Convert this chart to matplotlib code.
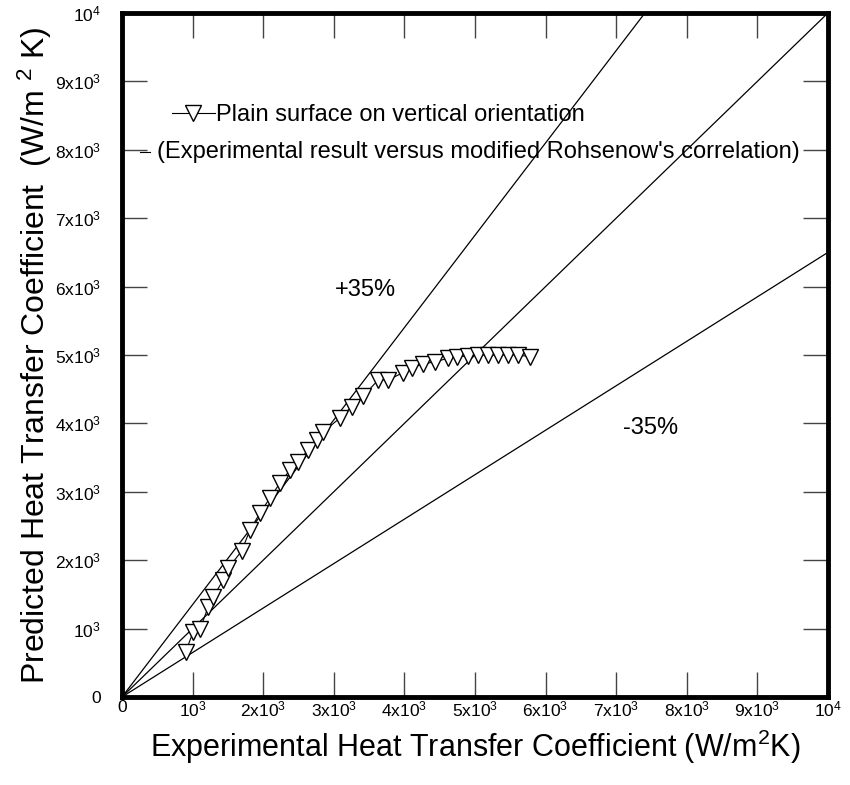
import matplotlib
matplotlib.use("Agg")
import matplotlib.pyplot as plt
import numpy as np

plt.rcParams['font.family'] = ['Liberation Sans', 'DejaVu Sans']
plt.rcParams['mathtext.fontset'] = 'custom'
plt.rcParams['mathtext.rm'] = 'Liberation Sans'
plt.rcParams['mathtext.it'] = 'Liberation Sans'

# Data (W/m^2K)
exp_h = [902, 1010, 1105, 1222, 1293, 1435, 1506, 1695, 1813, 1955, 2096, 2238,
         2380, 2493, 2635, 2762, 2847, 3088, 3254, 3418, 3630, 3772, 3984, 4103,
         4268, 4433, 4622, 4741, 4905, 5047, 5188, 5330, 5472, 5613, 5779]
pred_h = [662, 955, 990, 1320, 1466, 1711, 1882, 2135, 2442, 2690, 2909, 3129,
          3319, 3436, 3611, 3757, 3874, 4079, 4244, 4401, 4635, 4635, 4744, 4817,
          4868, 4902, 4952, 4975, 4985, 5000, 5000, 5000, 5000, 5000, 4975]
ref_slopes = [1.35, 1.0, 0.65]
tick_vals = [0, 1000, 2000, 3000, 4000, 5000, 6000, 7000, 8000, 9000, 10000]
tick_labels = ['0', r'$\mathregular{10^3}$', r'$\mathregular{2x10^3}$', r'$\mathregular{3x10^3}$',
               r'$\mathregular{4x10^3}$', r'$\mathregular{5x10^3}$', r'$\mathregular{6x10^3}$',
               r'$\mathregular{7x10^3}$', r'$\mathregular{8x10^3}$', r'$\mathregular{9x10^3}$',
               r'$\mathregular{10^4}$']

fig = plt.figure(figsize=(8.5, 7.85), dpi=100)
ax = fig.add_axes([0.1435, 0.1121, 0.8305, 0.8713])

xline = np.array([0, 10000])
for s in ref_slopes:
    ax.plot(xline, s * xline, color='black', lw=0.9)

ax.plot(exp_h, pred_h, color='black', lw=0.8, marker='v', ms=11,
        mfc='white', mec='black', mew=1.0,
        label='Plain surface on vertical orientation')

ax.set_xlim(0, 10000)
ax.set_ylim(0, 10000)
ax.set_xticks(tick_vals)
ax.set_xticklabels(tick_labels)
ax.set_yticks(tick_vals)
ax.set_yticklabels(tick_labels)

for sp in ax.spines.values():
    sp.set_linewidth(3.5)
ax.tick_params(direction='in', length=18, width=1, color='#444444',
               top=True, right=True, labelsize=12.5)
ax.tick_params(axis='y', pad=15)
ax.tick_params(axis='x', pad=2)

ax.set_xlabel(r'Experimental Heat Transfer Coefficient (W/m$\mathregular{^2}$K)', fontsize=22, labelpad=6)
ax.set_ylabel(r'Predicted Heat Transfer Coefficient  (W/m $\mathregular{^2}$ K)', fontsize=23, labelpad=1)

leg = ax.legend(loc='center left', bbox_to_anchor=(0.071, 0.851), frameon=False,
                fontsize=17, handlelength=1.8, handletextpad=0.08, borderaxespad=0,
                borderpad=0)
ax.text(0.0496, 0.797, "(Experimental result versus modified Rohsenow's correlation)",
        transform=ax.transAxes, fontsize=17, va='center', ha='left')
ax.plot([0.026, 0.040], [0.797, 0.797], transform=ax.transAxes, color='black', lw=0.8)

ax.text(3450, 5950, '+35%', fontsize=17, ha='center', va='center')
ax.text(7490, 3940, '-35%', fontsize=17, ha='center', va='center')

fig.savefig('out.png', dpi=100)
